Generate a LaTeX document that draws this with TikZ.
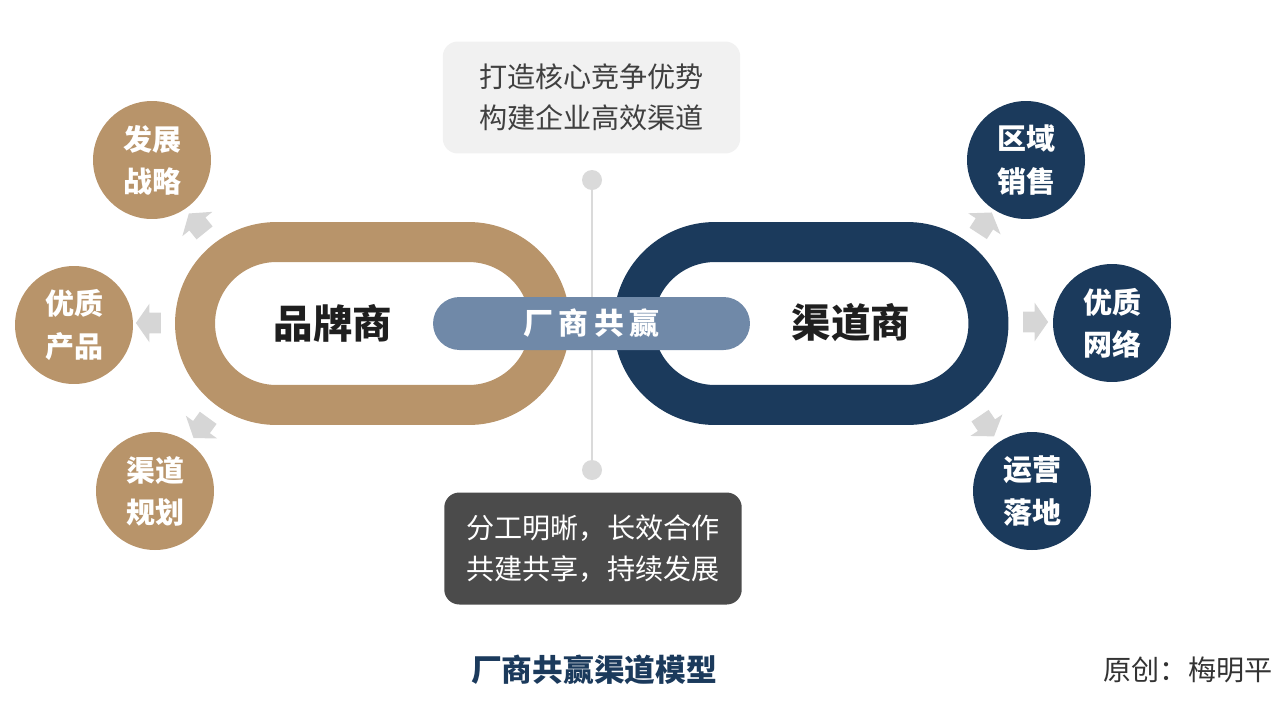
\documentclass[tikz,border=0pt]{standalone}
\usepackage{fontspec}
\setmainfont{Noto Sans CJK SC}
\usetikzlibrary{shapes.misc,shapes.arrows}

\definecolor{brandbrown}{HTML}{B8946A}
\definecolor{channelblue}{HTML}{1B3A5C}
\definecolor{pillblue}{HTML}{7089A8}
\definecolor{arrowgray}{HTML}{D6D6D6}
\definecolor{linegray}{HTML}{DADADA}
\definecolor{topfill}{HTML}{F1F1F1}
\definecolor{botfill}{HTML}{4B4B4B}
\definecolor{textgray}{HTML}{404040}

\begin{document}
\begin{tikzpicture}[x=0.02cm,y=-0.02cm,
  ring/.style={rounded rectangle,draw=#1,line width=0.8cm,
    minimum width=7.1cm,minimum height=3.26cm,inner sep=0pt},
  sat/.style={circle,fill=#1,minimum size=2.36cm,inner sep=0pt,
    text=white,align=center,font=\fontsize{16.5}{24}\selectfont\bfseries},
  blockarrow/.style={single arrow,fill=arrowgray,inner xsep=0pt,
    inner ysep=0.2cm,minimum height=0.5cm,
    single arrow head extend=0.18cm,single arrow tip angle=110,rotate=#1},
  dot/.style={circle,fill=linegray,minimum size=0.4cm,inner sep=0pt},
  infobox/.style={rounded corners=0.3cm,fill=#1,minimum width=5.95cm,
    minimum height=2.24cm,align=center,
    font=\fontsize{16}{23.5}\selectfont},
  party/.style={font=\fontsize{22.5}{26}\selectfont\bfseries,text=black!88}
]

  % page size
  \useasboundingbox (0,0) rectangle (1280,707);

  % dotted guide line in the middle
  \node[dot] (dtop) at (592,180) {};
  \node[dot] (dbot) at (592,470) {};
  \draw[linegray,line width=1.2pt] (dtop.center) -- (dbot.center);

  % the two rings
  \node[ring=brandbrown]  (brandring)   at (372.5,323.5) {};
  \node[ring=channelblue] (channelring) at (811,323.5) {};
  \node[party] (brand)   at (333,323) {品牌商};
  \node[party] (channel) at (851,323) {渠道商};

  % middle pill
  \node[rounded rectangle,fill=pillblue,minimum width=6.34cm,
    minimum height=1.06cm,inner sep=0pt,text=white,
    font=\fontsize{17}{20}\selectfont\bfseries] (win) at (591.5,323.5)
    {厂\hspace{3pt}商\hspace{3pt}共\hspace{3pt}赢};

  % boxes above and below
  \node[infobox=topfill,text=textgray] (goal) at (591.5,97.5)
    {打造核心竞争优势\\构建企业高效渠道};
  \node[infobox=botfill,text=white] (share) at (593,548.5)
    {分工明晰，长效合作\\共建共享，持续发展};

  % brand side
  \node[sat=brandbrown] (strategy) at (152,160) {发展\\战略};
  \node[sat=brandbrown] (product)  at (74,325)  {优质\\产品};
  \node[sat=brandbrown] (plan)     at (155,491) {渠道\\规划};
  \node[blockarrow=129] (a1) at (199,226) {};
  \node[blockarrow=180] (a2) at (152,323) {};
  \node[blockarrow=234] (a3) at (203,425) {};

  % channel side
  \node[sat=channelblue] (sales)   at (1026,160) {区域\\销售};
  \node[sat=channelblue] (network) at (1112,323) {优质\\网络};
  \node[sat=channelblue] (landing) at (1032,491) {运营\\落地};
  \node[blockarrow=57]  (a4) at (983,226) {};
  \node[blockarrow=0]   (a5) at (1032,322) {};
  \node[blockarrow=-56] (a6) at (985,423) {};

  % caption
  \node[font=\fontsize{17.5}{20}\selectfont\bfseries,text=channelblue]
    (title) at (594,670) {厂商共赢渠道模型};
  \node[font=\fontsize{16}{20}\selectfont,text=black!80]
    (author) at (1188,670) {原创：梅明平};

\end{tikzpicture}
\end{document}
